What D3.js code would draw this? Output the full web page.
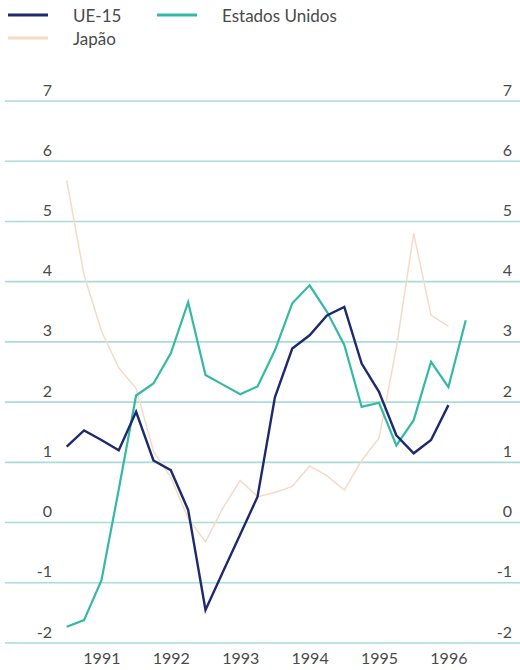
<!DOCTYPE html>
<html>
<head>
<meta charset="utf-8">
<script src="https://cdn.jsdelivr.net/npm/d3@7/dist/d3.min.js"></script>
<style>
  html, body { margin: 0; padding: 0; background: #ffffff; }
  svg { display: block; }
  text { font-family: Lato, "Open Sans", sans-serif; fill: #4a4a4a; }
</style>
</head>
<body>
<svg id="chart" width="520" height="670"></svg>
<script>
// Quarterly growth rates, starting in the third quarter of 1990
const startYear = 1990.5;
const stepYears = 0.25;

const ue15 = [1.26, 1.53, 1.37, 1.20, 1.84, 1.03, 0.87, 0.21, -1.45, -0.82, -0.20, 0.43,
              2.08, 2.89, 3.11, 3.44, 3.58, 2.64, 2.17, 1.45, 1.15, 1.37, 1.95];
const estadosUnidos = [-1.73, -1.62, -0.96, 0.55, 2.11, 2.31, 2.81, 3.66, 2.45, 2.29, 2.13, 2.26,
                       2.86, 3.64, 3.94, 3.50, 2.95, 1.92, 1.99, 1.28, 1.70, 2.67, 2.25, 3.36];
const japao = [5.68, 4.11, 3.18, 2.57, 2.23, 1.18, 0.75, 0.07, -0.32, 0.24, 0.70, 0.43,
               0.50, 0.60, 0.94, 0.78, 0.54, 1.03, 1.40, 2.90, 4.80, 3.44, 3.26];

const yearTicks = [1991, 1992, 1993, 1994, 1995, 1996];
const valueTicks = [-2, -1, 0, 1, 2, 3, 4, 5, 6, 7];

const seriesNames = ["UE-15", "Estados Unidos", "Japão"];
const seriesColors = ["#1d2b6e", "#35b9a6", "#f6dac6"];
const seriesWidths = [2.4, 2.2, 1.5];

const svg = d3.select("#chart");

const x = d3.scaleLinear().domain([1990.5, 1996]).range([66.7, 448.4]);
const y = d3.scaleLinear().domain([-2, 7]).range([643, 101]);

// Horizontal grid lines
svg.append("g")
  .selectAll("line")
  .data(valueTicks)
  .join("line")
  .attr("x1", 5).attr("x2", 520)
  .attr("y1", d => y(d)).attr("y2", d => y(d))
  .attr("stroke", "#a9dcd6")
  .attr("stroke-width", 1.6);

// Value labels on both sides, sitting just above each grid line (plain hyphen for negatives)
const valueFormat = d => String(d);
const leftAxis = d3.axisLeft(y).tickValues(valueTicks).tickFormat(valueFormat)
  .tickSize(0).tickPadding(0);
const rightAxis = d3.axisRight(y).tickValues(valueTicks).tickFormat(valueFormat)
  .tickSize(0).tickPadding(0);

function styleValueAxis(g) {
  g.select(".domain").remove();
  g.selectAll("text")
    .attr("dy", "-6px")
    .attr("text-anchor", "end")
    .style("font-size", "16px")
    .style("font-family", "Lato, 'Open Sans', sans-serif")
    .attr("fill", "#555");
}
svg.append("g").attr("transform", "translate(52,0)").call(leftAxis).call(styleValueAxis);
svg.append("g").attr("transform", "translate(512,0)").call(rightAxis).call(styleValueAxis);

// Year labels along the bottom
const bottomAxis = d3.axisBottom(x).tickValues(yearTicks).tickFormat(d3.format("d"))
  .tickSize(0).tickPadding(0);
svg.append("g").attr("transform", "translate(0,651)").call(bottomAxis)
  .call(g => {
    g.select(".domain").remove();
    g.selectAll("text")
      .attr("dy", "0.8em")
      .style("font-size", "16px")
      .style("font-family", "Lato, 'Open Sans', sans-serif")
      .attr("fill", "#555");
  });

// Series lines
const line = d3.line()
  .x((d, i) => x(startYear + i * stepYears))
  .y(d => y(d));

const allSeries = [ue15, estadosUnidos, japao];
// draw Japan first so the other two sit on top
[2, 1, 0].forEach(k => {
  svg.append("path")
    .datum(allSeries[k])
    .attr("d", line)
    .attr("fill", "none")
    .attr("stroke", seriesColors[k])
    .attr("stroke-width", seriesWidths[k])
    .attr("stroke-linejoin", "miter");
});

// Legend
const legendItems = [
  { k: 0, lx: 8, ty: 15 },
  { k: 1, lx: 157, ty: 15 },
  { k: 2, lx: 8, ty: 38 }
];
const legend = svg.append("g");
legendItems.forEach(it => {
  legend.append("line")
    .attr("x1", it.lx).attr("x2", it.lx + 40)
    .attr("y1", it.ty).attr("y2", it.ty)
    .attr("stroke", seriesColors[it.k])
    .attr("stroke-width", 3);
  legend.append("text")
    .attr("x", it.lx + 65)
    .attr("y", it.ty + 7)
    .style("font-size", "17px")
    .attr("fill", "#4a4a4a")
    .text(seriesNames[it.k]);
});
</script>
</body>
</html>
